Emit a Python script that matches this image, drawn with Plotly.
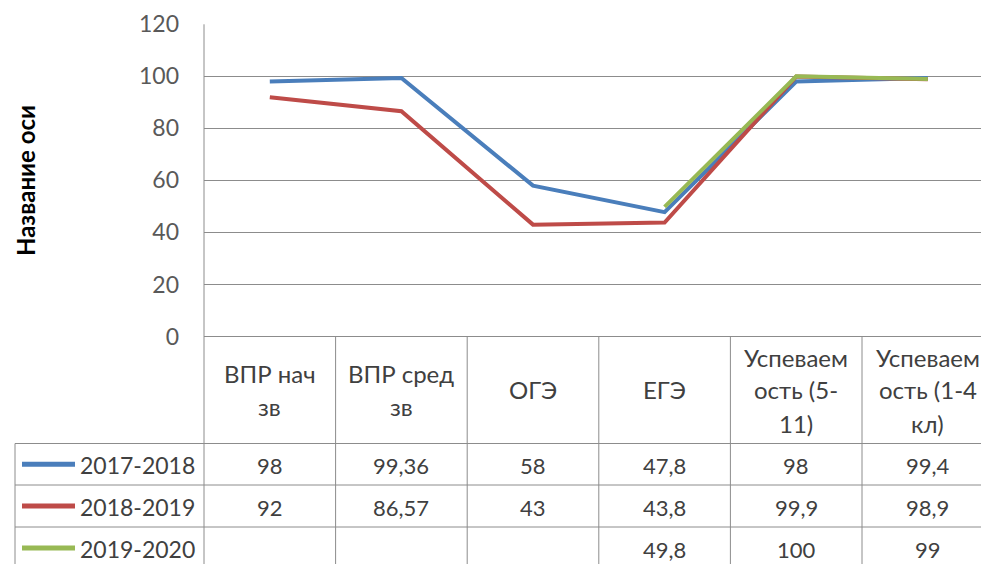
import plotly.graph_objects as go

# Category labels (table header) and series values
categories = [
    "ВПР нач<br>зв",
    "ВПР сред<br>зв",
    "ОГЭ",
    "ЕГЭ",
    "Успеваем<br>ость (5-<br>11)",
    "Успеваем<br>ость (1-4<br>кл)",
]
series_names = ["2017-2018", "2018-2019", "2019-2020"]
values_2017 = [98, 99.36, 58, 47.8, 98, 99.4]
values_2018 = [92, 86.57, 43, 43.8, 99.9, 98.9]
values_2019 = [None, None, None, 49.8, 100, 99]
y_ticks = [0, 20, 40, 60, 80, 100, 120]

COLORS = ["#4A7EBB", "#BE4B48", "#98B954"]
GRID = "#8C8C8C"
TEXT = "#404040"
FONT = "Lato"

# The page puts the figure 8px in from the window corner, so the figure is
# sized to the window minus that offset and positions are in window pixels.
OFF = 8
WIN_W, WIN_H = 989, 564
FW, FH = WIN_W - OFF, WIN_H - OFF
X0, COL = 204, 131.6          # left edge of plot / width of one category column
Y_ZERO, Y_TOP = 336.5, 24.3   # pixel rows of 0 and 120
ROW_LINES = [443.5, 485, 527, 569]
LINE_GAP = 33                 # header line spacing


def px(x):
    return (x - OFF) / FW


def py(y):
    return 1 - (y - OFF) / FH


def fmt(v):
    if v is None:
        return ""
    return f"{v:g}".replace(".", ",")


series = [values_2017, values_2018, values_2019]
xs = list(range(len(categories)))

fig = go.Figure()
for name, vals, color in zip(series_names, series, COLORS):
    fig.add_trace(
        go.Scatter(
            x=xs,
            y=vals,
            name=name,
            mode="lines",
            line={"color": color, "width": 4},
            connectgaps=False,
            showlegend=False,
        )
    )

line_style = {"color": GRID, "width": 1}
shapes = []
# axis line down through the table
shapes.append(dict(type="line", xref="paper", yref="paper",
                   x0=px(X0), x1=px(X0), y0=py(Y_TOP), y1=0, line=line_style))
# horizontal table rules
shapes.append(dict(type="line", xref="paper", yref="paper",
                   x0=px(X0), x1=1, y0=py(Y_ZERO), y1=py(Y_ZERO), line=line_style))
for r in ROW_LINES[:-1]:
    shapes.append(dict(type="line", xref="paper", yref="paper",
                       x0=px(15), x1=1, y0=py(r), y1=py(r), line=line_style))
# legend column left border
shapes.append(dict(type="line", xref="paper", yref="paper",
                   x0=px(15), x1=px(15), y0=py(ROW_LINES[0]), y1=0, line=line_style))
# column separators
for i in range(1, len(categories)):
    xp = px(X0 + COL * i)
    shapes.append(dict(type="line", xref="paper", yref="paper",
                       x0=xp, x1=xp, y0=py(Y_ZERO), y1=0, line=line_style))

annotations = []
# header cells, one annotation per line to get Excel's line spacing
head_mid = (Y_ZERO + ROW_LINES[0]) / 2
for i, cat in enumerate(categories):
    lines = cat.split("<br>")
    first = head_mid - LINE_GAP * (len(lines) - 1) / 2
    for k, part in enumerate(lines):
        annotations.append(dict(
            x=i, xref="x", y=py(first + k * LINE_GAP), yref="paper",
            text=part, showarrow=False, xanchor="center", yanchor="middle",
            font={"family": FONT, "size": 24, "color": TEXT},
        ))
# data rows with legend keys
for r, (name, vals, color) in enumerate(zip(series_names, series, COLORS)):
    yc = (ROW_LINES[r] + ROW_LINES[r + 1]) / 2
    shapes.append(dict(type="line", xref="paper", yref="paper",
                       x0=px(22), x1=px(75), y0=py(yc), y1=py(yc),
                       line={"color": color, "width": 5}))
    annotations.append(dict(
        x=px(78), xref="paper", y=py(yc + 1), yref="paper", text=name,
        showarrow=False, xanchor="left", yanchor="middle",
        font={"family": FONT, "size": 23, "color": TEXT},
    ))
    for i, v in enumerate(vals):
        if v is None:
            continue
        annotations.append(dict(
            x=i, xref="x", y=py(yc + 1), yref="paper", text=fmt(v),
            showarrow=False, xanchor="center", yanchor="middle",
            font={"family": FONT, "size": 22, "color": TEXT},
        ))
# axis title
annotations.append(dict(
    x=px(25), xref="paper", y=py(181), yref="paper", text="<b>Название оси</b>",
    textangle=-90, showarrow=False, xanchor="center", yanchor="middle",
    font={"family": FONT, "size": 24, "color": "#000000"},
))

fig.update_xaxes(
    domain=[px(X0), 1],
    range=[-0.5, -0.5 + (WIN_W - X0) / COL],
    showticklabels=False,
    showgrid=False,
    zeroline=False,
    automargin=False,
    fixedrange=True,
)
fig.update_yaxes(
    domain=[py(Y_ZERO), py(Y_TOP)],
    range=[0, 120],
    tickvals=y_ticks,
    gridcolor=GRID,
    gridwidth=1,
    zeroline=False,
    showline=False,
    ticks="",
    ticklabelstandoff=24,
    tickfont={"family": FONT, "size": 23, "color": "#595959"},
    automargin=False,
    fixedrange=True,
)
fig.update_layout(
    width=FW,
    height=FH,
    margin={"l": 0, "r": 0, "t": 0, "b": 0, "autoexpand": False},
    paper_bgcolor="white",
    plot_bgcolor="white",
    shapes=shapes,
    annotations=annotations,
    showlegend=False,
)

fig.write_html("out.html")
